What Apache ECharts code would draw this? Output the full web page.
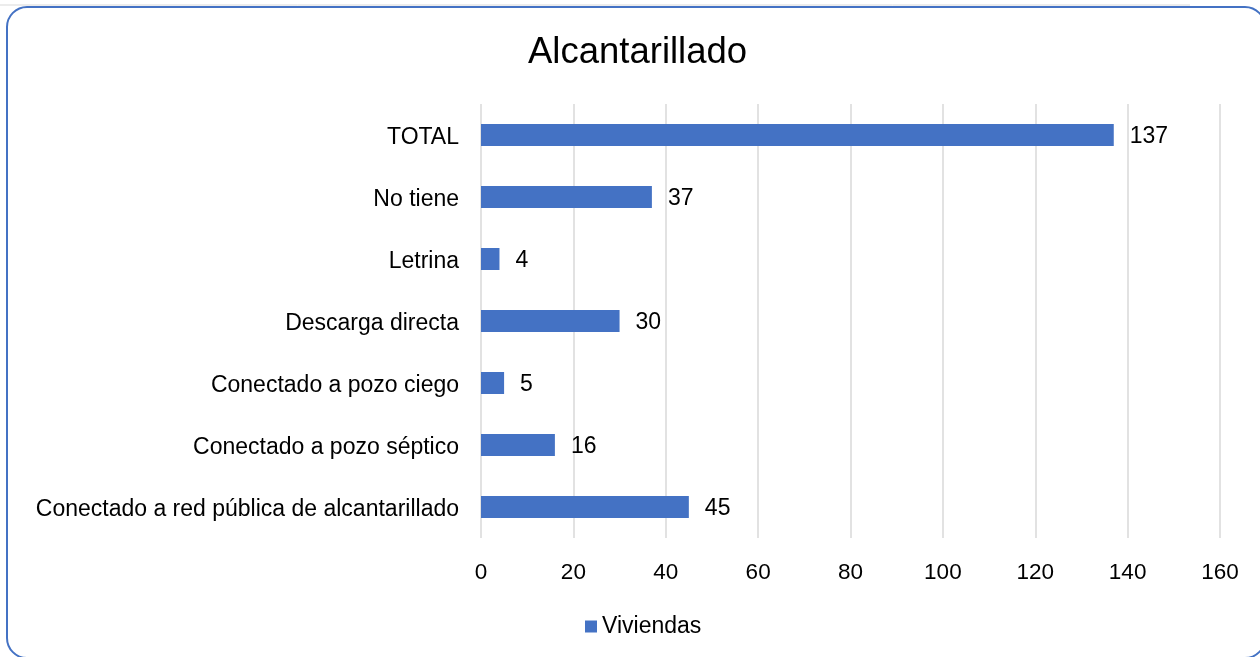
<!DOCTYPE html>
<html>
<head>
<meta charset="utf-8">
<script src="https://cdn.jsdelivr.net/npm/echarts@6/dist/echarts.min.js"></script>
<style>
html,body{margin:0;padding:0;background:#fff;}
#chart{width:1260px;height:657px;}
</style>
</head>
<body>
<div id="chart"></div>
<script>
const categories = [
  "Conectado a red pública de alcantarillado",
  "Conectado a pozo séptico",
  "Conectado a pozo ciego",
  "Descarga directa",
  "Letrina",
  "No tiene",
  "TOTAL"
];
const viviendas = [45, 16, 5, 30, 4, 37, 137];
const seriesName = "Viviendas";
const titleText = "Alcantarillado";

const chart = echarts.init(document.getElementById('chart'), null, {renderer: 'canvas'});
const font = "'Liberation Sans', Arial, Helvetica, sans-serif";
chart.setOption({
  animation: false,
  backgroundColor: '#fff',
  title: {
    text: titleText,
    left: 523,
    top: 29,
    textStyle: {fontFamily: font, fontSize: 36.5, fontWeight: 'normal', color: '#000'}
  },
  legend: {
    data: [seriesName],
    left: 580,
    top: 610,
    icon: 'rect',
    itemWidth: 12,
    itemHeight: 12,
    itemGap: 5,
    textStyle: {fontFamily: font, fontSize: 23, color: '#000', padding: [0, 0, 0, 0]}
  },
  grid: {left: 481, right: 40, top: 104, bottom: 119, containLabel: false},
  xAxis: {
    type: 'value',
    min: 0,
    max: 160,
    interval: 20,
    axisLine: {show: false},
    axisTick: {show: false},
    axisLabel: {fontFamily: font, fontSize: 22.5, color: '#000', margin: 23},
    splitLine: {show: true, lineStyle: {color: '#d9d9d9', width: 1.5}}
  },
  yAxis: {
    type: 'category',
    data: categories,
    axisLine: {show: false},
    axisTick: {show: false},
    axisLabel: {
      color: '#000', margin: 22,
      formatter: function (v) { return '{a|' + v + '}'; },
      rich: {a: {fontFamily: font, fontSize: 23, color: '#000', padding: [5, 0, 0, 0]}}
    }
  },
  series: [{
    name: seriesName,
    type: 'bar',
    data: viviendas,
    barWidth: 22,
    itemStyle: {color: '#4472C4'},
    label: {show: true, position: 'right', distance: 16, fontFamily: font, fontSize: 23, color: '#000', offset: [0, 2]}
  }],
  graphic: [
    {type: 'line', shape: {x1: 0, y1: 5, x2: 1190, y2: 5}, style: {stroke: '#d9d9d9', lineWidth: 1}},
    {type: 'rect', shape: {x: 7, y: 7, width: 1258, height: 651, r: 20}, style: {fill: 'none', stroke: '#4472C4', lineWidth: 2}}
  ]
});
</script>
</body>
</html>
